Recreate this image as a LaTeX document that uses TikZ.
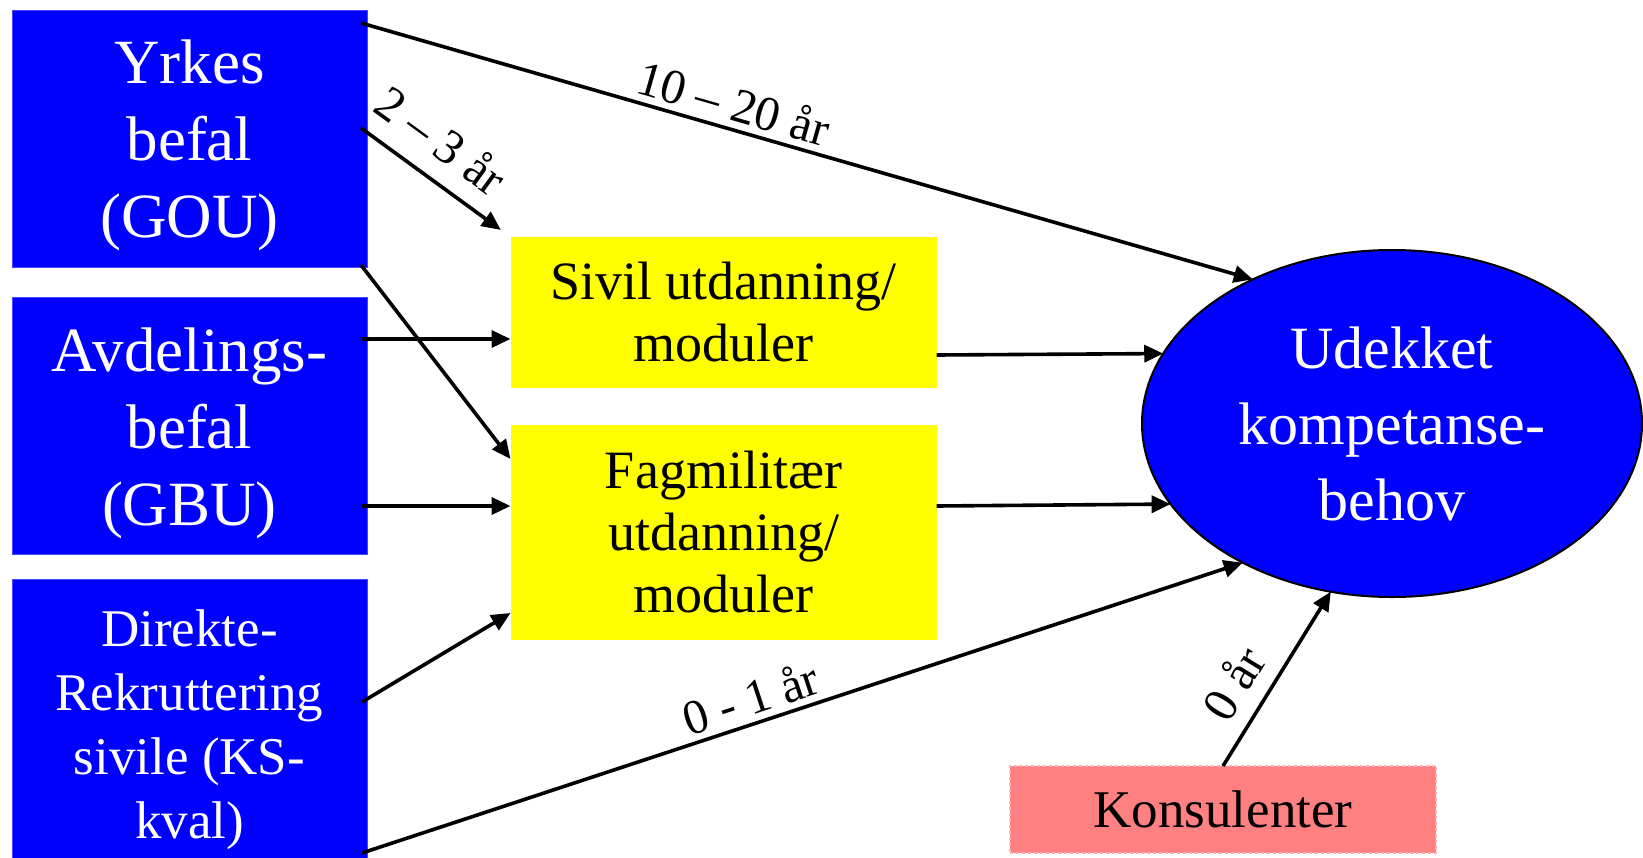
\documentclass[tikz,border=0pt]{standalone}
\usepackage{fontspec}
\setmainfont{Liberation Serif}
\usetikzlibrary{shapes.geometric,arrows.meta,calc}
\definecolor{cBlue}{RGB}{0,0,255}
\definecolor{cBlueEdge}{RGB}{70,70,255}
\definecolor{cYellow}{RGB}{255,255,0}
\definecolor{cPink}{RGB}{255,128,128}
\definecolor{cPinkEdge}{RGB}{255,176,176}
\begin{document}
\begin{tikzpicture}[x=1bp,y=-1bp,
  bbox/.style={rectangle, fill=cBlue, draw=cBlueEdge, line width=0.8bp,
    inner sep=0pt, outer sep=0pt, minimum width=355bp},
  btxt/.style={text=white, align=center, inner sep=0pt,
    font=\fontsize{63bp}{77bp}\selectfont},
  ybox/.style={rectangle, fill=cYellow, draw=none, text=black, align=center,
    inner sep=0pt, outer sep=0pt, minimum width=426bp,
    font=\fontsize{54bp}{62bp}\selectfont},
  kbox/.style={rectangle, fill=cPink, draw=cPinkEdge, dashed, line width=1.5bp,
    text=black, inner sep=0pt, outer sep=0pt, minimum width=426bp, minimum height=87bp,
    font=\fontsize{53bp}{64bp}\selectfont},
  ellbox/.style={ellipse, fill=cBlue, draw=black, line width=2bp, text=white,
    align=center, inner sep=0pt, outer sep=0pt, minimum width=500bp, minimum height=347bp,
    font=\fontsize{60bp}{76bp}\selectfont},
  arr/.style={-{Triangle[length=19bp,width=17bp]}, line width=3.6bp, black},
  lbl/.style={inner sep=2bp, text=black, font=\fontsize{49bp}{56bp}\selectfont}
]
\useasboundingbox (0,0) rectangle (1643,857);
\clip (0,0) rectangle (1643,857);
\fill[white] (0,0) rectangle (1643,857);

% boxes
\node[bbox, minimum height=257bp,
  label={[btxt, yshift=-7bp]center:{Yrkes\\befal\\(GOU)}}] (yrkes) at (189.5,138.5) {};
\node[bbox, minimum height=257bp,
  label={[btxt, yshift=-8bp]center:{Avdelings-\\befal\\(GBU)}}] (avd) at (189.5,425.5) {};
\node[bbox, minimum height=301bp,
  label={[btxt, font=\fontsize{53bp}{64bp}\selectfont]center:{Direkte-\\Rekruttering\\sivile (KS-\\kval)}}] (dir) at (189.5,729.5) {};
\node[ybox, minimum height=151bp] (sivil) at (723.5,312.5) {Sivil utdanning/\\moduler};
\node[ybox, minimum height=215bp] (fag) at (723.5,532.5) {Fagmilitær\\utdanning/\\moduler};
\node[ellbox] (ell) at (1392,423.5) {Udekket\\kompetanse-\\behov};
\node[kbox] (kons) at (1223,809.5) {Konsulenter};

% start points
\coordinate (yA) at ($(yrkes.north east)+(-6,13)$);
\coordinate (yB) at ($(yrkes.north east)+(-6,118)$);
\coordinate (yC) at ($(yrkes.south east)+(-6,-2)$);
\coordinate (aA) at ($(avd.north east)+(-5,42)$);
\coordinate (aB) at ($(avd.east)+(-5,80.5)$);
\coordinate (dA) at ($(dir.east)+(-5,-27.5)$);
\coordinate (dB) at ($(dir.east)+(-5,123.5)$);
\coordinate (sA) at ($(sivil.east)+(0,42.5)$);
\coordinate (fA) at ($(fag.east)+(0,-26.5)$);
\coordinate (fT) at ($(fag.north west)+(0,34)$);
\coordinate (fB) at ($(fag.south west)+(0,-27)$);

% connectors
\draw[arr] (yA) -- (ell.134) node[lbl, pos=0.41, sloped, above=4bp] {10 – 20 år};
\draw[arr, shorten >=12bp] (yB) -- (sivil.north west) node[lbl, pos=0.39, sloped, above=16bp] {2 – 3 år};
\draw[arr] (yC) -- (fT);
\draw[arr] (aA) -- (aA -| sivil.west);
\draw[arr] (aB) -- (aB -| fag.west);
\draw[arr] (dA) -- (fB);
\draw[arr] (dB) -- (ell.223.35) node[lbl, pos=0.45, sloped, above=4bp] {0 - 1 år};
\draw[arr] (sA) -- (ell.163.4);
\draw[arr] (fA) -- (ell.200.6);
\draw[arr] (kons.north) -- (ell.250) node[lbl, pos=0.37, sloped, above=13bp] {0 år};
\end{tikzpicture}
\end{document}
